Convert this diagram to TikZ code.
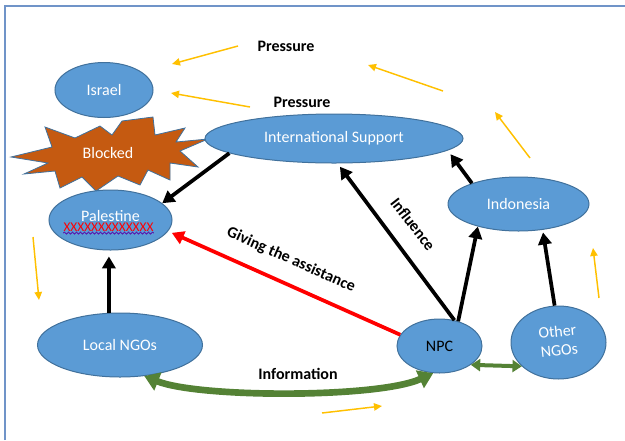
\documentclass[tikz,border=0pt]{standalone}
\usepackage{fontspec}
\setmainfont{Carlito}
\usetikzlibrary{arrows.meta,calc,shapes.geometric,decorations.pathmorphing}
\definecolor{ellfill}{HTML}{5B9BD5}
\definecolor{ellline}{HTML}{41719C}
\definecolor{blockfill}{HTML}{C55A11}
\definecolor{grn}{HTML}{548235}
\definecolor{ylw}{HTML}{FFC000}
\definecolor{framecol}{HTML}{7094C8}
\definecolor{redline}{HTML}{FF0000}
\tikzset{
  ell/.style={ellipse, draw=ellline, fill=ellfill, line width=0.75pt, inner sep=0pt,
    text=white, font=\fontsize{12}{14.4}\selectfont, align=center},
  txt/.style={inner sep=0pt, font=\fontsize{12}{14.4}\selectfont},
  lbl/.style={inner sep=0pt, font=\bfseries\fontsize{12}{14.4}\selectfont, text=black},
  blk/.style={draw=black, line width=2.8pt, -{Triangle[length=9pt,width=10pt]}},
  redarr/.style={draw=redline, line width=2.8pt, -{Triangle[length=9pt,width=10pt]}},
  grnbig/.style={draw=grn, line width=5pt, {Triangle[length=11pt,width=14pt]}-{Triangle[length=11pt,width=14pt]}},
  grnsmall/.style={draw=grn, line width=3pt, {Triangle[length=7pt,width=9pt]}-{Triangle[length=7pt,width=9pt]}},
  yel/.style={draw=ylw, line width=1.1pt, -{Triangle[length=6pt,width=5.5pt]}},
}
\begin{document}
\begin{tikzpicture}[x=0.75pt,y=-0.75pt]
\useasboundingbox (0,0) rectangle (625,440);
% frame
\draw[framecol, line width=0.9pt] (5,440) -- (5,6) -- (625,6);

% yellow free arrows
\coordinate (ya1) at (238,46);  \coordinate (yb1) at (172,64);
\coordinate (ya2) at (250,107); \coordinate (yb2) at (171,93);
\coordinate (ya3) at (443,91);  \coordinate (yb3) at (368,65);
\coordinate (ya4) at (530,158); \coordinate (yb4) at (495,112);
\coordinate (ya5) at (33,237);  \coordinate (yb5) at (39,300);
\coordinate (ya6) at (599,298); \coordinate (yb6) at (593,248);
\coordinate (ya7) at (322,413); \coordinate (yb7) at (382,406);
\foreach \i in {1,...,7} {\draw[yel] (ya\i) -- (yb\i);}

% Blocked starburst
\draw[fill=blockfill, draw=ellline, line width=0.6pt]
  (11,157) -- (52,147) -- (45,127) -- (75,138) -- (100,126) -- (112,135) -- (122,121)
  -- (153,117) -- (155,135) -- (185,128) -- (176,142) -- (208,139) -- (180,151)
  -- (198,167) -- (170,163) -- (170,180) -- (148,170) -- (140,185) -- (118,176)
  -- (96,191) -- (82,177) -- (60,188) -- (55,171) -- (24,174) -- (48,163) -- cycle;
\node[txt, text=white] (blocked) at (108,153) {Blocked};

% ellipses
\node[ell, minimum width=73.5pt, minimum height=41.25pt] (isr) at (104,90) {Israel};
\node[ell, minimum width=193.5pt, minimum height=36.75pt] (intl) at (334,138.5) {International Support};
\node[ell, minimum width=92.25pt, minimum height=45pt] (pal) at (110.5,220) {};
\node[txt, text=white] (paltext) at ($(pal)+(0,-4)$) {Palestine};
\node[inner sep=0pt, text=red, font=\fontsize{10}{12}\selectfont] (palx) at ($(pal)+(-2,7.5)$) {XXXXXXXXXXXXX};
\draw[violet!70!blue, line width=0.5pt, decorate,
  decoration={snake, amplitude=0.8pt, segment length=3pt}]
  ($(palx.south west)+(0,1)$) -- ($(palx.south east)+(0,1)$);
\node[ell, minimum width=105.75pt, minimum height=40.5pt] (indo) at (518.5,204) {Indonesia};
\node[ell, minimum width=123.75pt, minimum height=48pt] (local) at (120,345) {Local NGOs};
\node[ell, minimum width=63.75pt, minimum height=40.5pt, text=black] (npc) at (439.5,346) {NPC};
\node[ell, minimum width=71.25pt, minimum height=54.75pt] (other) at (558.5,342.5)
  {\rotatebox{6}{\begin{tabular}{@{}c@{}}Other\\NGOs\end{tabular}}};

% connectors
\draw[blk] (intl.188) -- (pal.18);
\draw[blk, shorten >=4.5pt] (local.109) -- (pal.267);
\draw[redarr, shorten >=3pt] (npc.164) -- (pal.-11);
\draw[blk, shorten >=3pt] (npc.60) -- (intl.278);
\draw[blk] (npc.53) -- (indo.209);
\draw[blk, shorten >=3.5pt] (indo.156) -- (intl.-6);
\draw[blk, shorten >=2pt] (other.96) -- (indo.-47);
\draw[grnbig] (local.-52) .. controls +(55,22) and +(-55,25) .. (npc.257);
\draw[grnsmall] (npc.-31) -- (other.213);

% labels
\node[lbl] (p1) at (286,46) {Pressure};
\node[lbl] (p2) at (302,102) {Pressure};
\node[lbl, rotate=-52] (infl) at (413,224) {Influence};
\node[lbl, rotate=-24] (give) at (291,260) {Giving the assistance};
\node[lbl] (info) at (298,374) {Information};
\end{tikzpicture}
\end{document}
